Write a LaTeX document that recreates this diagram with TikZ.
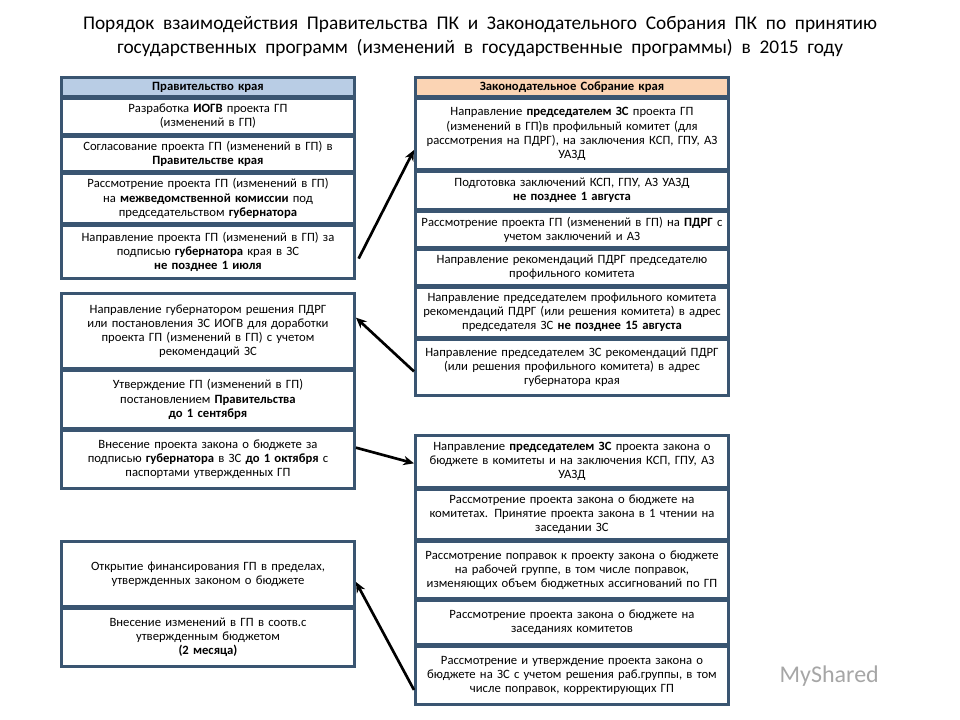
\documentclass[tikz,border=0pt]{standalone}
\usepackage{fontspec}
\setmainfont{Carlito}
\usetikzlibrary{arrows.meta}
\begin{document}
\begin{tikzpicture}[x=0.75pt,y=-0.75pt,
 bx/.style={draw=bord,line width=2.2pt,fill=white,inner sep=0pt,align=center,font=\fontsize{9.5}{10.6}\selectfont,anchor=north west},
 arr/.style={-{Stealth[length=8pt,width=7pt]},line width=2pt}]
\definecolor{bord}{HTML}{3A5571}
\definecolor{hl}{HTML}{B9CDE5}
\definecolor{hr}{HTML}{FBD4B4}
\useasboundingbox (0,0) rectangle (960,720);
\newcommand\bb[7]{\node[bx,#6,minimum width={(#3-#1)*0.75pt},minimum height={(#4-#2)*0.75pt},text width={(#3-#1-3)*0.75pt}] (#5) at (#1,#2) {#7};}
\node[font=\fontsize{14.5}{18}\selectfont,align=center] (title) at (480,37) {Порядок\ \ взаимодействия\ \ Правительства\ \ ПК\ \ и\ \ Законодательного\ \ Собрания\ \ ПК\ \ по\ \ принятию\\государственных\ \ программ\ \ (изменений\ \ в\ \ государственные\ \ программы)\ \ в\ \ 2015\ \ году};
% left
\bb{60}{76}{353}{95}{l0}{fill=hl}{\textbf{Правительство края}}
\bb{60}{97}{353}{133}{l1}{}{Разработка \textbf{ИОГВ} проекта ГП\\(изменений в ГП)}
\bb{60}{135}{353}{170}{l2}{}{Согласование проекта ГП (изменений в ГП) в\\\textbf{Правительстве края}}
\bb{60}{172}{353}{222}{l3}{}{Рассмотрение проекта ГП (изменений в ГП)\\на \textbf{межведомственной комиссии} под\\председательством \textbf{губернатора}}
\bb{60}{224}{353}{277}{l4}{}{Направление проекта ГП (изменений в ГП) за\\подписью \textbf{губернатора} края в ЗС\\\textbf{не позднее 1 июля}}
\bb{60}{292}{353}{367}{l5}{}{Направление губернатором решения ПДРГ\\или постановления ЗС ИОГВ для доработки\\проекта ГП (изменений в ГП) с учетом\\рекомендаций ЗС}
\bb{60}{369}{353}{427}{l6}{}{Утверждение ГП (изменений в ГП)\\постановлением \textbf{Правительства}\\\textbf{до 1 сентября}}
\bb{60}{429}{353}{487}{l7}{}{Внесение проекта закона о бюджете за\\подписью \textbf{губернатора} в ЗС \textbf{до 1 октября} с\\паспортами утвержденных ГП}
\bb{60}{540}{353}{605}{l8}{}{Открытие финансирования ГП в пределах,\\утвержденных законом о бюджете}
\bb{60}{607}{353}{665}{l9}{}{Внесение изменений в ГП в соотв.с\\утвержденным бюджетом\\\textbf{(2 месяца)}}
% right
\bb{414}{76}{727}{95}{r0}{fill=hr}{\textbf{Законодательное Собрание края}}
\bb{414}{97}{727}{168}{r1}{}{Направление \textbf{председателем ЗС} проекта ГП\\(изменений в ГП)в профильный комитет (для\\рассмотрения на ПДРГ), на заключения КСП, ГПУ, АЗ\\УАЗД}
\bb{414}{170}{727}{208}{r2}{}{Подготовка заключений КСП, ГПУ, АЗ УАЗД\\\textbf{не позднее 1 августа}}
\bb{414}{210}{727}{246}{r3}{}{Рассмотрение проекта ГП (изменений в ГП) на \textbf{ПДРГ} с\\учетом заключений и АЗ}
\bb{414}{248}{727}{284}{r4}{}{Направление рекомендаций ПДРГ председателю\\профильного комитета}
\bb{414}{286}{727}{336}{r5}{}{Направление председателем профильного комитета\\рекомендаций ПДРГ (или решения комитета) в адрес\\председателя ЗС \textbf{не позднее 15 августа}}
\bb{414}{338}{727}{394}{r6}{}{Направление председателем ЗС рекомендаций ПДРГ\\(или решения профильного комитета) в адрес\\губернатора края}
\bb{414}{434}{727}{486}{r7}{}{Направление \textbf{председателем ЗС} проекта закона о\\бюджете в комитеты и на заключения КСП, ГПУ, АЗ\\УАЗД}
\bb{414}{488}{727}{538}{r8}{}{Рассмотрение проекта закона о бюджете на\\комитетах. Принятие проекта закона в 1 чтении на\\заседании ЗС}
\bb{414}{540}{727}{597}{r9}{}{Рассмотрение поправок к проекту закона о бюджете\\на рабочей группе, в том числе поправок,\\изменяющих объем бюджетных ассигнований по ГП}
\bb{414}{599}{727}{643}{r10}{}{Рассмотрение проекта закона о бюджете на\\заседаниях комитетов}
\bb{414}{645}{727}{703}{r11}{}{Рассмотрение и утверждение проекта закона о\\бюджете на ЗС с учетом решения раб.группы, в том\\числе поправок, корректирующих ГП}
% arrows
\draw[arr] ([xshift=2pt,yshift=-5pt]l4.east) -- ([yshift=-12pt]r1.west);
\draw[arr] ([yshift=-3pt]r6.west) -- ([yshift=10pt]l5.east);
\draw[arr] ([yshift=-14pt]l7.north east) -- ([yshift=-22pt]r7.north west);
\draw[arr] ([yshift=12pt]r11.south west) -- ([yshift=-6pt]l8.east);
\node[font=\fontsize{18}{20}\selectfont,text=gray!70,anchor=west] (wm) at (775,676) {MyShared};
\end{tikzpicture}
\end{document}
